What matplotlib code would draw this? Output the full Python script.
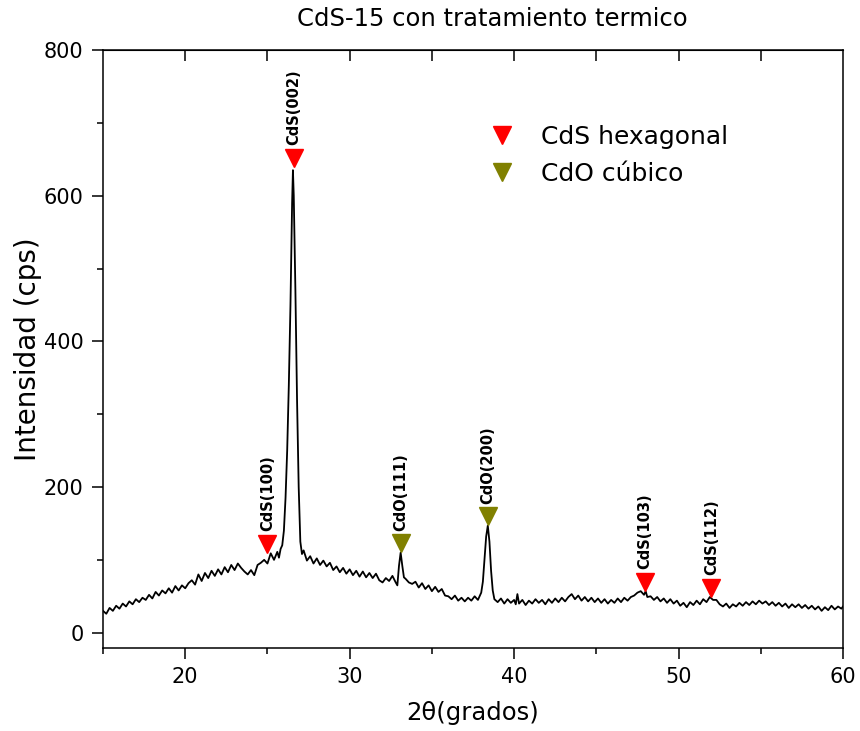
import matplotlib
matplotlib.use("Agg")
import matplotlib.pyplot as plt
from matplotlib.lines import Line2D
from matplotlib.ticker import MultipleLocator

# patron de difraccion
two_theta = [
    15.0, 15.2, 15.4, 15.6, 15.8, 16.0, 16.2, 16.4, 16.6, 16.8,
    17.0, 17.2, 17.4, 17.6, 17.8, 18.0, 18.2, 18.4, 18.6, 18.8,
    19.0, 19.2, 19.4, 19.6, 19.8, 20.0, 20.2, 20.4, 20.6, 20.8,
    21.0, 21.2, 21.4, 21.6, 21.8, 22.0, 22.2, 22.4, 22.6, 22.8,
    23.0, 23.2, 23.4, 23.6, 23.8, 24.0, 24.2, 24.4, 24.6, 24.8,
    25.0, 25.2, 25.4, 25.6, 25.7, 25.8, 25.9, 26.0, 26.1, 26.2,
    26.3, 26.4, 26.5, 26.55, 26.6, 26.7, 26.8, 26.9, 27.0, 27.1,
    27.2, 27.4, 27.6, 27.8, 28.0, 28.2, 28.4, 28.6, 28.8, 29.0,
    29.2, 29.4, 29.6, 29.8, 30.0, 30.2, 30.4, 30.6, 30.8, 31.0,
    31.2, 31.4, 31.6, 31.8, 32.0, 32.2, 32.4, 32.6, 32.8, 32.9,
    33.0, 33.1, 33.2, 33.3, 33.4, 33.6, 33.8, 34.0, 34.2, 34.4,
    34.6, 34.8, 35.0, 35.2, 35.4, 35.6, 35.8, 36.0, 36.2, 36.4,
    36.6, 36.8, 37.0, 37.2, 37.4, 37.6, 37.8, 38.0, 38.1, 38.2,
    38.3, 38.4, 38.5, 38.6, 38.7, 38.8, 39.0, 39.2, 39.4, 39.6,
    39.8, 40.0, 40.1, 40.2, 40.3, 40.5, 40.7, 40.9, 41.1, 41.3,
    41.5, 41.7, 41.9, 42.1, 42.3, 42.5, 42.7, 42.9, 43.1, 43.3,
    43.5, 43.7, 43.9, 44.1, 44.3, 44.5, 44.7, 44.9, 45.1, 45.3,
    45.5, 45.7, 45.9, 46.1, 46.3, 46.5, 46.7, 46.9, 47.1, 47.3,
    47.5, 47.7, 47.9, 48.0, 48.1, 48.3, 48.5, 48.7, 48.9, 49.1,
    49.3, 49.5, 49.7, 49.9, 50.1, 50.3, 50.5, 50.7, 50.9, 51.1,
    51.3, 51.5, 51.7, 51.9, 52.1, 52.3, 52.5, 52.7, 52.9, 53.1,
    53.3, 53.5, 53.7, 53.9, 54.1, 54.3, 54.5, 54.7, 54.9, 55.1,
    55.3, 55.5, 55.7, 55.9, 56.1, 56.3, 56.5, 56.7, 56.9, 57.1,
    57.3, 57.5, 57.7, 57.9, 58.1, 58.3, 58.5, 58.7, 58.9, 59.1,
    59.3, 59.5, 59.7, 59.9, 60.0,
]
intensity = [
    30, 26, 34, 30, 37, 33, 40, 36, 43, 39,
    46, 42, 48, 45, 52, 47, 56, 51, 58, 54,
    61, 55, 64, 58, 65, 61, 68, 72, 66, 80,
    71, 82, 75, 85, 78, 87, 80, 90, 83, 93,
    86, 95, 89, 84, 80, 86, 79, 93, 96, 100,
    95, 109, 100, 111, 103, 115, 120, 140, 185, 250,
    340, 450, 590, 635, 600, 470, 320, 200, 125, 108,
    113, 99, 105, 95, 102, 93, 99, 91, 96, 86,
    91, 83, 89, 81, 87, 79, 85, 77, 84, 76,
    82, 75, 81, 72, 69, 75, 71, 78, 69, 65,
    92, 110, 92, 76, 74, 69, 67, 70, 62, 68,
    60, 65, 57, 63, 56, 60, 51, 50, 46, 51,
    44, 48, 43, 48, 44, 50, 45, 55, 70, 100,
    132, 147, 125, 85, 58, 46, 42, 47, 40, 46,
    41, 45, 39, 53, 40, 45, 38, 44, 40, 46,
    41, 45, 39, 46, 41, 47, 42, 48, 43, 49,
    53, 46, 51, 44, 49, 43, 48, 42, 47, 41,
    46, 40, 45, 41, 47, 42, 48, 44, 49, 51,
    55, 57, 52, 57, 49, 50, 45, 49, 43, 47,
    41, 46, 40, 44, 37, 41, 35, 42, 38, 44,
    39, 46, 42, 49, 45, 45, 39, 36, 40, 34,
    39, 36, 41, 37, 42, 38, 43, 39, 44, 40,
    43, 38, 42, 37, 41, 36, 40, 34, 39, 35,
    39, 34, 38, 33, 37, 32, 36, 30, 35, 31,
    37, 32, 36, 33, 36,
]

# picos identificados
cds_pos = [25.0, 26.6, 47.95, 52.0]
cds_y = [122, 652, 70, 62]
cds_labels = ["CdS(100)", "CdS(002)", "CdS(103)", "CdS(112)"]
cdo_pos = [33.1, 38.4]
cdo_y = [123, 160]
cdo_labels = ["CdO(111)", "CdO(200)"]

RED = "#ff0000"
OLIVE = "#808000"

fig = plt.figure(figsize=(8.6, 7.31), dpi=100)
ax = fig.add_axes([103 / 860, 1 - 648 / 731, 740 / 860, 598 / 731])

ax.plot(two_theta, intensity, color="black", lw=1.3)

ax.plot(cds_pos, cds_y, ls="none", marker="v", ms=13, color=RED)
ax.plot(cdo_pos, cdo_y, ls="none", marker="v", ms=13, color=OLIVE)
for x, y, t in zip(cds_pos + cdo_pos, cds_y + cdo_y, cds_labels + cdo_labels):
    ax.annotate(t, (x, y), xytext=(0, 9), textcoords="offset points",
                rotation=90, ha="center", va="bottom", fontsize=10.5,
                fontweight="bold")

ax.set_xlim(15, 60)
ax.set_ylim(-21, 800)
ax.xaxis.set_major_locator(MultipleLocator(10))
ax.xaxis.set_minor_locator(MultipleLocator(5))
ax.yaxis.set_major_locator(MultipleLocator(200))
ax.yaxis.set_minor_locator(MultipleLocator(100))
ax.tick_params(which="major", direction="out", length=8, width=1.1,
               labelsize=15, pad=6)
ax.tick_params(which="minor", direction="out", length=4.5, width=1.1)
for s in ax.spines.values():
    s.set_linewidth(1.1)

top = ax.secondary_xaxis("top")
top.set_xticks([20, 25, 30, 35, 40, 45, 50, 55])
top.tick_params(direction="in", length=8, width=1.1, labeltop=False)
top.xaxis.set_minor_locator(plt.NullLocator())

ax.set_xlabel("2θ(grados)", fontsize=17.5, labelpad=10)
ax.set_ylabel("Intensidad (cps)", fontsize=20, labelpad=1)
fig.text(492 / 860, 1 - 19 / 731, "CdS-15 con tratamiento termico",
         fontsize=17.5, ha="center", va="center")

handles = [
    Line2D([], [], ls="none", marker="v", ms=13, color=RED),
    Line2D([], [], ls="none", marker="v", ms=13, color=OLIVE),
]
ax.legend(handles, ["CdS hexagonal", "CdO cúbico"], loc="upper left",
          bbox_to_anchor=(0.522, 0.875), frameon=False, fontsize=18,
          handlelength=1.0, handletextpad=1.06, labelspacing=0.52,
          borderpad=0, borderaxespad=0)

fig.savefig("out.png", dpi=100)
